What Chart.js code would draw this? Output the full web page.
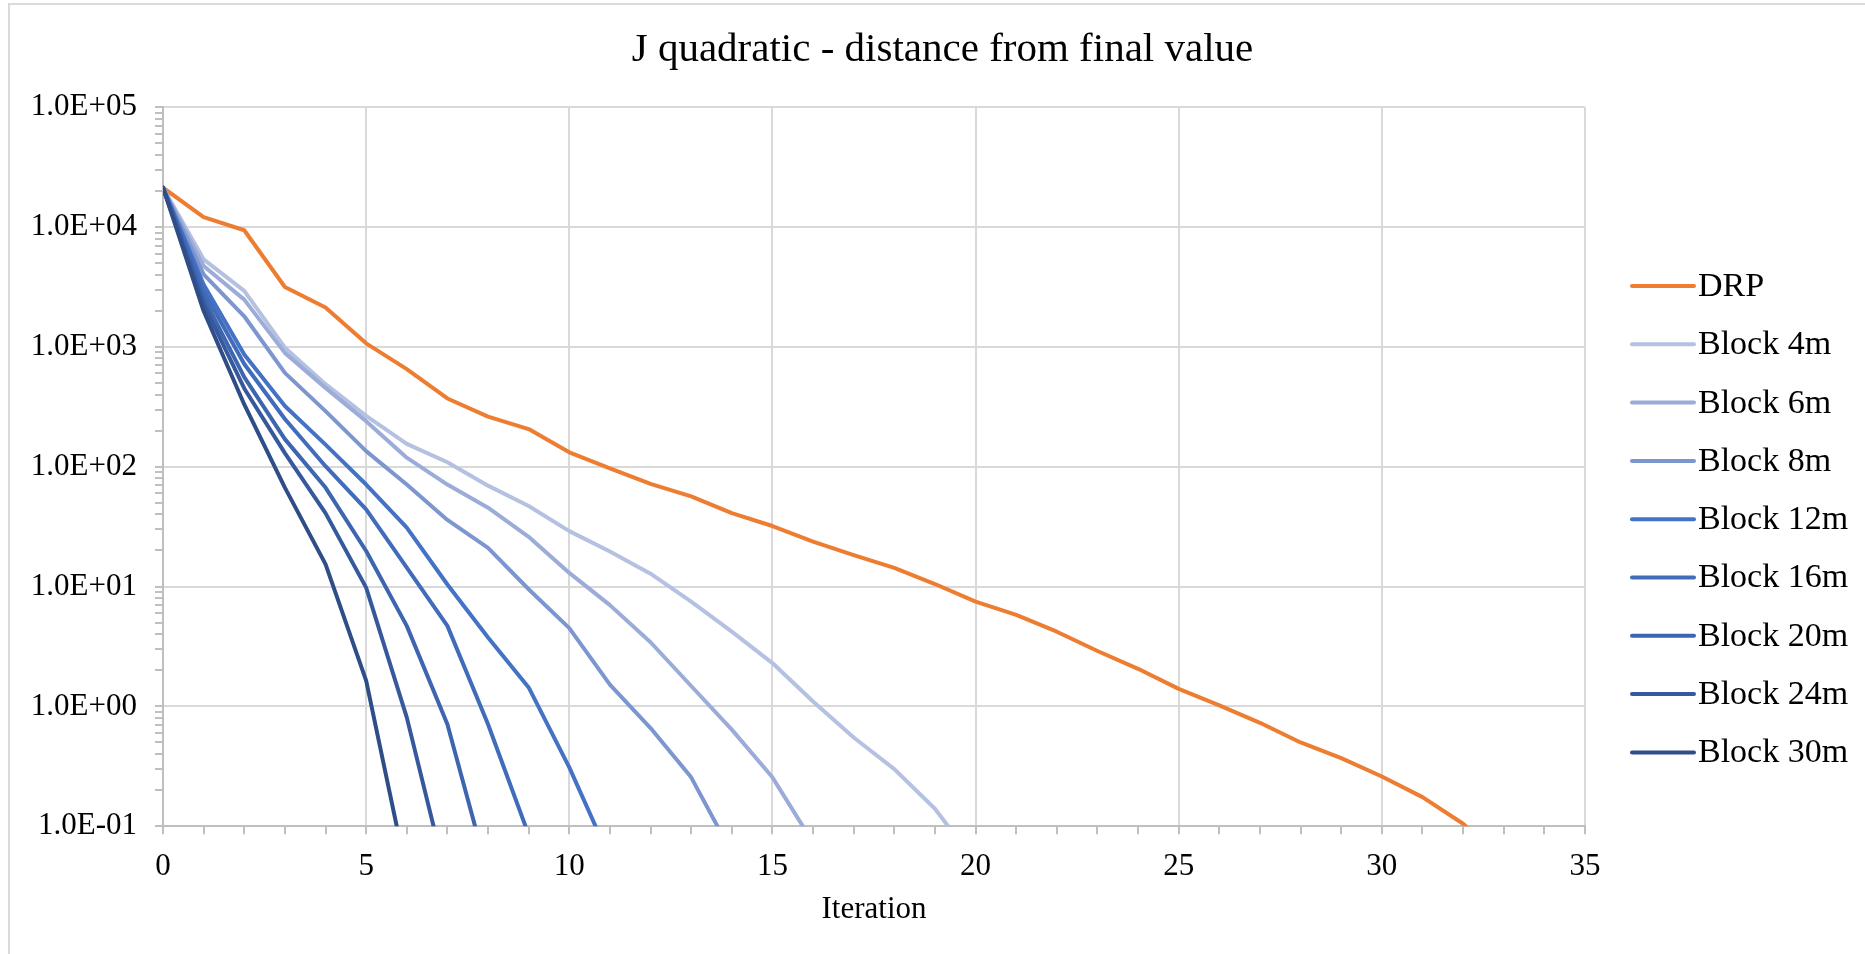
<!DOCTYPE html>
<html>
<head>
<meta charset="utf-8">
<title>J quadratic - distance from final value</title>
<script src="https://cdn.jsdelivr.net/npm/chart.js@4.4.1/dist/chart.umd.min.js"></script>
<style>
    html, body { margin: 0; padding: 0; background: #ffffff; overflow: hidden; }
    #wrap { position: relative; width: 1865px; height: 954px; }
    #frame { position: absolute; left: 8px; top: 3px; width: 1900px; height: 1000px; border: 2px solid #d9d9d9; }
    #chart { position: absolute; left: 0; top: 0; }
</style>
</head>
<body>
<div id="wrap">
    <div id="frame"></div>
    <canvas id="chart" width="1865" height="954"></canvas>
</div>
<script>
// iteration numbers on the x axis
const iterations = [0, 1, 2, 3, 4, 5, 6, 7, 8, 9, 10, 11, 12, 13, 14, 15, 16, 17, 18, 19, 20,
    21, 22, 23, 24, 25, 26, 27, 28, 29, 30, 31, 32, 33];

// distance from final value, one array per method
const drp = [21300, 12100, 9400, 3160, 2130, 1070, 652, 371, 262, 206, 132, 97, 72, 56.5, 41, 32,
    23.7, 18.3, 14.3, 10.5, 7.5, 5.8, 4.2, 2.9, 2.06, 1.40, 1.02, 0.73, 0.50, 0.37, 0.26, 0.175, 0.105, 0.05];
const block4m = [21300, 5380, 2930, 986, 489, 266, 155, 109, 69.5, 47, 29, 19.6, 12.8, 7.5, 4.2, 2.3,
    1.1, 0.55, 0.30, 0.14, 0.05];
const block6m = [21300, 4730, 2480, 891, 455, 240, 119, 71, 45.5, 26, 13, 7.0, 3.43, 1.48, 0.64, 0.256, 0.073];
const block8m = [21300, 4030, 1800, 607, 291, 135, 71, 36, 21, 9.5, 4.5, 1.52, 0.66, 0.256, 0.06];
const block12m = [21300, 3320, 865, 321, 153, 71, 31, 10.4, 3.76, 1.44, 0.31, 0.054];
const block16m = [21300, 2930, 720, 250, 101, 44, 14.4, 4.7, 0.71, 0.085];
const block20m = [21300, 2570, 560, 170, 67, 19.8, 4.7, 0.71, 0.04];
const block24m = [21300, 2270, 450, 130, 41, 9.8, 0.81, 0.034];
const block30m = [21300, 1990, 331, 67, 15.4, 1.64, 0.04];

const seriesNames = ['DRP', 'Block 4m', 'Block 6m', 'Block 8m', 'Block 12m', 'Block 16m', 'Block 20m', 'Block 24m', 'Block 30m'];
const seriesValues = [drp, block4m, block6m, block8m, block12m, block16m, block20m, block24m, block30m];
const seriesColors = ['#ED7D31', '#B4C1E1', '#9BACD9', '#7E96D0', '#4472C4', '#416CBB', '#3D65B0', '#36599D', '#2F4D87'];

// log axis: decades from 1E-01 to 1E+05 with minor marks in between
const yMin = 0.1;
const yMax = 100000;
const yTickValues = [];
for (let e = -1; e <= 4; e++) {
    for (let m = 1; m <= 9; m++) {
        yTickValues.push(m * Math.pow(10, e));
    }
}
yTickValues.push(yMax);

const GRID = '#d9d9d9';
const AXIS = '#bfbfbf';
const FONT = '"Liberation Serif", "Times New Roman", serif';

function isDecade(v) {
    const l = Math.log10(v);
    return Math.abs(l - Math.round(l)) < 1e-9;
}

function sciLabel(v) {
    const e = Math.round(Math.log10(v));
    return '1.0E' + (e < 0 ? '-' : '+') + String(Math.abs(e)).padStart(2, '0');
}

// legend drawn at the right side, one line sample + name per series
const sideLegend = {
    id: 'sideLegend',
    afterDraw(chart) {
        const ctx = chart.ctx;
        const x0 = chart.chartArea.right + 47;
        let y = 286;
        ctx.save();
        ctx.font = '34px ' + FONT;
        ctx.textBaseline = 'middle';
        ctx.textAlign = 'left';
        chart.data.datasets.forEach(ds => {
            ctx.strokeStyle = ds.borderColor;
            ctx.lineWidth = 4;
            ctx.lineCap = 'round';
            ctx.beginPath();
            ctx.moveTo(x0, y);
            ctx.lineTo(x0 + 62, y);
            ctx.stroke();
            ctx.fillStyle = '#000000';
            ctx.fillText(ds.label, x0 + 66, y + 1);
            y += 58.3;
        });
        ctx.restore();
    }
};

Chart.defaults.font.family = FONT;
Chart.defaults.color = '#000000';

const datasets = seriesNames.map((name, i) => ({
    label: name,
    data: seriesValues[i],
    borderColor: seriesColors[i],
    backgroundColor: seriesColors[i],
    borderWidth: 4,
    pointRadius: 0,
    tension: 0,
    fill: false,
    clip: 0,
    borderJoinStyle: 'round',
    borderCapStyle: 'round',
    order: seriesNames.length - i
}));

new Chart(document.getElementById('chart').getContext('2d'), {
    type: 'line',
    data: {
        labels: iterations,
        datasets: datasets
    },
    options: {
        responsive: false,
        animation: false,
        layout: {
            padding: { left: 20, right: 0, top: 0, bottom: 31 }
        },
        plugins: {
            legend: { display: false },
            tooltip: { enabled: false },
            title: {
                display: true,
                text: 'J quadratic - distance from final value',
                color: '#000000',
                font: { family: FONT, size: 41, weight: 'normal' },
                padding: { top: 26, bottom: 32 }
            }
        },
        scales: {
            x: {
                type: 'linear',
                min: 0,
                max: 35,
                border: { display: true, color: AXIS, width: 2 },
                grid: {
                    lineWidth: 2,
                    color: ctx => (ctx.tick && ctx.tick.value % 5 === 0) ? GRID : 'rgba(0,0,0,0)',
                    tickColor: AXIS,
                    tickWidth: 2,
                    tickLength: 8
                },
                ticks: {
                    stepSize: 1,
                    autoSkip: false,
                    maxRotation: 0,
                    padding: 23,
                    font: { size: 31, lineHeight: 0.65 },
                    callback: v => (v % 5 === 0 ? String(v) : '')
                },
                title: {
                    display: true,
                    text: 'Iteration',
                    font: { size: 31, lineHeight: 0.6 },
                    padding: { top: 0, bottom: 4 }
                }
            },
            y: {
                type: 'logarithmic',
                min: yMin,
                max: yMax,
                afterFit: scale => { scale.width = 143; },
                afterBuildTicks: scale => {
                    scale.ticks = yTickValues.map(v => ({ value: v, major: isDecade(v) }));
                },
                border: { display: true, color: AXIS, width: 2 },
                grid: {
                    lineWidth: 2,
                    color: ctx => (ctx.tick && isDecade(ctx.tick.value)) ? GRID : 'rgba(0,0,0,0)',
                    tickColor: AXIS,
                    tickWidth: 2,
                    tickLength: 8
                },
                ticks: {
                    autoSkip: false,
                    padding: 18,
                    font: { size: 31 },
                    callback: v => (isDecade(v) ? sciLabel(v) : '')
                }
            },
            // empty right-hand axis that only keeps room for the legend
            legendRoom: {
                type: 'linear',
                position: 'right',
                display: true,
                afterFit: scale => { scale.width = 280; },
                border: { display: false },
                grid: { display: false, drawOnChartArea: false },
                ticks: { display: false }
            }
        }
    },
    plugins: [sideLegend]
});
</script>
</body>
</html>
